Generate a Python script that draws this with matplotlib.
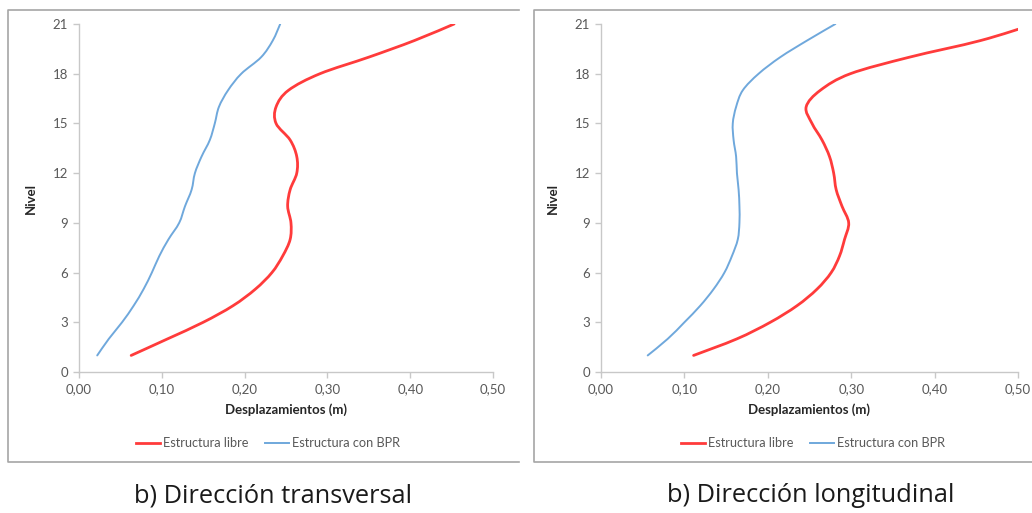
"""
Desplazamientos por nivel: estructura libre vs. estructura con BPR,
direccion transversal y longitudinal (two Excel-style panels).
"""
import matplotlib
matplotlib.use("Agg")
import matplotlib.pyplot as plt
from matplotlib.lines import Line2D
from matplotlib.patches import PathPatch
from matplotlib.path import Path
from matplotlib.ticker import FuncFormatter, MultipleLocator

# --- data ---
niveles = list(range(1, 22))

trans_libre = [0.063, 0.107, 0.150, 0.186, 0.213, 0.233, 0.246, 0.255, 0.256, 0.252,
               0.255, 0.263, 0.263, 0.255, 0.238, 0.238, 0.253, 0.291, 0.350, 0.405, 0.453]
trans_bpr = [0.022, 0.036, 0.052, 0.066, 0.078, 0.088, 0.097, 0.108, 0.121, 0.128,
             0.136, 0.140, 0.148, 0.158, 0.164, 0.169, 0.180, 0.196, 0.220, 0.234, 0.243]

long_libre = [0.111, 0.163, 0.203, 0.235, 0.259, 0.276, 0.286, 0.292, 0.297, 0.289,
              0.282, 0.279, 0.274, 0.265, 0.253, 0.246, 0.263, 0.299, 0.370, 0.455, 0.520]
long_bpr = [0.056, 0.080, 0.100, 0.119, 0.135, 0.148, 0.157, 0.164, 0.166, 0.166,
            0.165, 0.163, 0.162, 0.159, 0.158, 0.162, 0.170, 0.189, 0.215, 0.247, 0.281]

captions = ["b) Dirección transversal", "b) Dirección longitudinal"]
series_labels = ["Estructura libre", "Estructura con BPR"]

RED = "#FF3B3B"
BLUE = "#6FA8DC"
GRID_GREY = "#C8C8C8"
TEXT_GREY = "#595959"
FONT = ["Lato", "DejaVu Sans"]

plt.rcParams["font.family"] = FONT

W, H = 1032, 513
fig = plt.figure(figsize=(W / 100, H / 100), dpi=100)


def px(x0, y0, x1, y1):
    """pixel box (top-left origin) -> figure fraction rect"""
    return [x0 / W, 1 - y1 / H, (x1 - x0) / W, (y1 - y0) / H]


def comma_fmt(v, pos):
    return f"{v:.2f}".replace(".", ",")


def smooth_path(xs, ys):
    """Excel-like smoothed line: Catmull-Rom segments as cubic Bezier curves"""
    pts = list(zip(xs, ys))
    n = len(pts)
    verts = [pts[0]]
    codes = [Path.MOVETO]
    for i in range(n - 1):
        p0 = pts[max(i - 1, 0)]
        p1 = pts[i]
        p2 = pts[i + 1]
        p3 = pts[min(i + 2, n - 1)]
        c1 = (p1[0] + (p2[0] - p0[0]) / 6, p1[1] + (p2[1] - p0[1]) / 6)
        c2 = (p2[0] - (p3[0] - p1[0]) / 6, p2[1] - (p3[1] - p1[1]) / 6)
        verts += [c1, c2, p2]
        codes += [Path.CURVE4] * 3
    return Path(verts, codes)


def draw_panel(ax, libre, bpr):
    for xs, color, lw in ((libre, RED, 2.0), (bpr, BLUE, 1.4)):
        ax.add_patch(PathPatch(smooth_path(xs, niveles), facecolor="none",
                               edgecolor=color, lw=lw, capstyle="round",
                               joinstyle="round"))
    ax.set_xlim(0, 0.5)
    ax.set_ylim(0, 21)
    ax.xaxis.set_major_locator(MultipleLocator(0.1))
    ax.yaxis.set_major_locator(MultipleLocator(3))
    ax.xaxis.set_major_formatter(FuncFormatter(comma_fmt))
    for s in ("top", "right"):
        ax.spines[s].set_visible(False)
    for s in ("left", "bottom"):
        ax.spines[s].set_color(GRID_GREY)
        ax.spines[s].set_linewidth(1.0)
    ax.tick_params(axis="both", direction="out", length=4, width=1.0,
                   color=GRID_GREY, labelcolor=TEXT_GREY, labelsize=9.5, pad=4)
    ax.set_xlabel("Desplazamientos (m)", fontsize=9.5, fontweight="bold",
                  color="#262626", labelpad=6)
    ax.set_ylabel("Nivel", fontsize=9.5, fontweight="bold", color="#262626",
                  labelpad=11)


axes_px = [(79, 24, 493, 372), (601, 24, 1018, 372)]
panel_data = [(trans_libre, trans_bpr), (long_libre, long_bpr)]
box_px = [(8, 9.5, 519, 462), (533.5, 9.5, 1040, 462)]
caption_x = [273, 811]
legend_x = [268, 813]

handles = [Line2D([], [], color=RED, lw=2.0), Line2D([], [], color=BLUE, lw=1.4)]

for i in range(2):
    ax = fig.add_axes(px(*axes_px[i]))
    draw_panel(ax, *panel_data[i])

    # legend below the axes, centred in the panel
    leg = ax.legend(handles, series_labels, loc="center",
                    bbox_to_anchor=(legend_x[i] / W, 1 - 443 / H),
                    bbox_transform=fig.transFigure, ncol=2, frameon=False,
                    fontsize=9.2, handlelength=1.9, handletextpad=0.2,
                    columnspacing=1.3)
    for t in leg.get_texts():
        t.set_color(TEXT_GREY)

    # grey panel border (top, left, bottom)
    x0, y0, x1, y1 = box_px[i]
    xs = [x1 / W, x0 / W, x0 / W, x1 / W]
    ys = [1 - y0 / H, 1 - y0 / H, 1 - y1 / H, 1 - y1 / H]
    fig.add_artist(Line2D(xs, ys, transform=fig.transFigure, color="#A6A6A6", lw=1.2))

    fig.text(caption_x[i] / W, 1 - 496 / H, captions[i], ha="center", va="center",
             fontsize=18.3, color="#1a1a1a", family=["Open Sans", "DejaVu Sans"])

fig.savefig("out.png", dpi=100)
